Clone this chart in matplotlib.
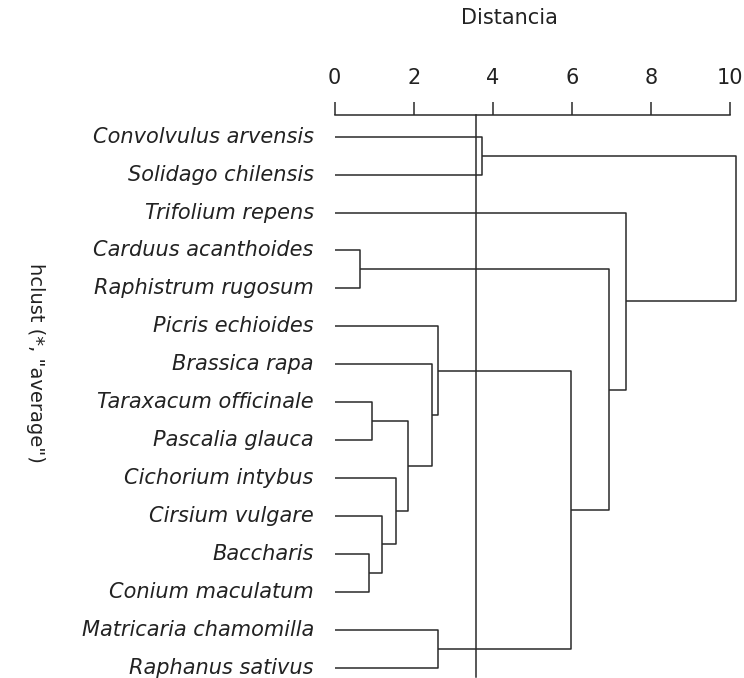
import matplotlib
matplotlib.use('Agg')
import matplotlib.pyplot as plt

# leaves in display order (top to bottom)
labels = ["Convolvulus arvensis", "Solidago chilensis", "Trifolium repens",
          "Carduus acanthoides", "Raphistrum rugosum", "Picris echioides",
          "Brassica rapa", "Taraxacum officinale", "Pascalia glauca",
          "Cichorium intybus", "Cirsium vulgare", "Baccharis",
          "Conium maculatum", "Matricaria chamomilla", "Raphanus sativus"]

# R-style merge table: negative = leaf (1-based), positive = earlier merge row
merge_a = [-4, -12, -8, -11, -10, 3, -7, -6, -14, -1, 8, 1, -3, 10]
merge_b = [-5, -13, -9, 2, 4, 5, 6, 7, -15, -2, 9, 11, 12, 13]
heights = [0.64, 0.87, 0.94, 1.20, 1.54, 1.86, 2.45, 2.61, 2.61, 3.73,
           5.99, 6.95, 7.36, 10.15]

cut_height = 3.57
x_ticks = [0, 2, 4, 6, 8, 10]

W, H = 744, 678
fig = plt.figure(figsize=(W / 100, H / 100), dpi=100)

x0_px, unit_px = 334.7, 39.53
xmax = 10.2
row0_px, row_px = 136.7, 37.93
ylo, yhi = -0.4, len(labels) - 1 + 0.25
top_px = row0_px + ylo * row_px
bot_px = row0_px + yhi * row_px
ax = fig.add_axes([x0_px / W, 1 - bot_px / H, xmax * unit_px / W, (bot_px - top_px) / H])

col = '#2a2a2a'
txt = '#222222'
fs = 15
lw = 1.1


def node(ref):
    # returns (height, position) of a leaf or a merged cluster
    if ref < 0:
        return 0.0, float(-ref - 1)
    return nodes[ref - 1]


nodes = []
for a, b, h in zip(merge_a, merge_b, heights):
    ha, ya = node(a)
    hb, yb = node(b)
    ax.plot([ha, h, h, hb], [ya, ya, yb, yb], color=col, lw=lw, solid_capstyle='butt')
    nodes.append((h, (ya + yb) / 2))

ax.set_xlim(0, xmax)
ax.set_ylim(yhi, ylo)

# cut line reaching up to the axis line
ax.plot([cut_height, cut_height], [yhi, ylo - 6.5 / row_px], color=col, lw=lw, clip_on=False)

for s in ['left', 'right', 'bottom']:
    ax.spines[s].set_visible(False)
ax.spines['top'].set_position(('outward', 6.5 * 0.72))
ax.spines['top'].set_bounds(0, 10)
ax.spines['top'].set_color(col)
ax.spines['top'].set_linewidth(lw)
ax.xaxis.tick_top()
ax.set_xticks(x_ticks)
ax.set_xticklabels([str(t) for t in x_ticks])
ax.tick_params(axis='x', direction='out', length=9.4, width=lw, color=col,
               pad=10, labelsize=fs, labelcolor=txt)

ax.set_yticks(range(len(labels)))
ax.set_yticklabels(labels, fontstyle='italic', fontsize=fs, color=txt)
ax.tick_params(axis='y', length=0, pad=15)
for t in ax.get_yticklabels():
    t.set_va('center')

fig.text(509 / W, 1 - 18 / H, "Distancia", ha='center', va='center',
         fontsize=fs, color=txt)
fig.text(35 / W, 1 - 363 / H, 'hclust (*, "average")', ha='center', va='center',
         rotation=270, fontsize=14, color=txt)

fig.savefig('out.png', dpi=100)
